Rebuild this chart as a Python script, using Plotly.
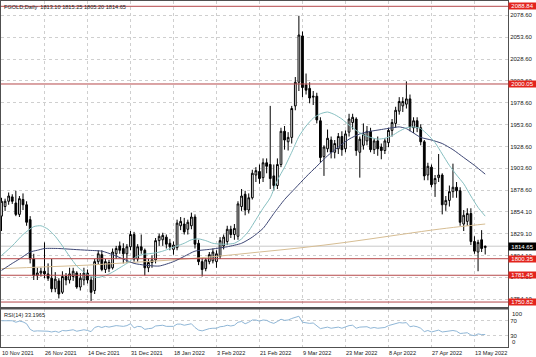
import plotly.graph_objects as go

# ---------------- data ----------------
tick_labels = ["10 Nov 2021", "26 Nov 2021", "14 Dec 2021", "31 Dec 2021", "18 Jan 2022",
               "3 Feb 2022", "21 Feb 2022", "9 Mar 2022", "23 Mar 2022", "8 Apr 2022",
               "27 Apr 2022", "13 May 2022"]

opens = [1849, 1860, 1866, 1871, 1864, 1851, 1868, 1862, 1845, 1800,
         1781, 1784, 1786, 1783, 1778, 1766, 1775, 1762, 1780, 1776,
         1780, 1784, 1768, 1776, 1784, 1776, 1764, 1797, 1805, 1788,
         1796, 1790, 1806, 1815, 1812, 1806, 1814, 1828, 1800, 1814,
         1810, 1790, 1796, 1799, 1821, 1822, 1825, 1818, 1811, 1813,
         1838, 1840, 1834, 1838, 1848, 1818, 1797, 1789, 1797, 1798,
         1797, 1803, 1815, 1820, 1834, 1828, 1826, 1860, 1874, 1856,
         1870, 1896, 1900, 1893, 1910, 1908, 1895, 1884, 1908, 1946,
         1934, 1939, 1975, 2002, 2055, 1999, 1995, 1985, 1986, 1958,
         1917, 1926, 1936, 1922, 1926, 1940, 1926, 1945, 1956, 1960,
         1922, 1930, 1935, 1946, 1925, 1935, 1928, 1924, 1933, 1947,
         1955, 1969, 1975, 1977, 1983, 1950, 1958, 1950, 1934, 1896,
         1905, 1886, 1893, 1896, 1862, 1867, 1877, 1882, 1878, 1840,
         1843, 1852, 1820, 1808, 1822, 1813.10]
highs = [1870, 1869, 1876, 1874, 1878, 1872, 1875, 1866, 1849, 1806,
         1790, 1790, 1819, 1795, 1800, 1785, 1778, 1786, 1784, 1790,
         1790, 1786, 1784, 1790, 1788, 1780, 1800, 1810, 1810, 1800,
         1799, 1812, 1815, 1820, 1818, 1817, 1832, 1831, 1817, 1828,
         1812, 1800, 1804, 1824, 1829, 1830, 1828, 1823, 1820, 1845,
         1848, 1847, 1845, 1853, 1851, 1822, 1801, 1801, 1808, 1812,
         1810, 1825, 1828, 1838, 1838, 1840, 1866, 1880, 1878, 1875,
         1902, 1905, 1908, 1915, 1915, 1975, 1908, 1915, 1950, 1952,
         1945, 1975, 2008, 2078, 2060, 2012, 2002, 1992, 1990, 1962,
         1930, 1948, 1940, 1936, 1944, 1946, 1947, 1966, 1966, 1962,
         1940, 1955, 1952, 1950, 1938, 1940, 1932, 1938, 1950, 1960,
         1974, 1985, 1985, 2003, 1988, 1962, 1962, 1954, 1936, 1910,
         1908, 1896, 1920, 1898, 1872, 1884, 1909, 1888, 1882, 1856,
         1858, 1858, 1826, 1822, 1833, 1815.25]
lows = [1832, 1855, 1862, 1863, 1849, 1848, 1856, 1838, 1795, 1776,
        1776, 1780, 1778, 1775, 1762, 1762, 1755, 1760, 1770, 1772,
        1775, 1766, 1764, 1770, 1772, 1752, 1760, 1794, 1786, 1784,
        1785, 1788, 1800, 1806, 1795, 1796, 1810, 1797, 1797, 1806,
        1781, 1785, 1790, 1795, 1815, 1815, 1812, 1810, 1805, 1810,
        1833, 1828, 1828, 1834, 1812, 1793, 1780, 1786, 1794, 1795,
        1790, 1800, 1811, 1816, 1824, 1822, 1822, 1855, 1850, 1852,
        1868, 1888, 1886, 1888, 1898, 1880, 1878, 1880, 1905, 1925,
        1924, 1932, 1970, 1992, 1985, 1988, 1978, 1976, 1955, 1910,
        1895, 1922, 1915, 1915, 1920, 1918, 1922, 1940, 1948, 1918,
        1893, 1925, 1930, 1922, 1920, 1918, 1914, 1920, 1928, 1940,
        1950, 1965, 1968, 1972, 1946, 1944, 1945, 1930, 1890, 1890,
        1882, 1871, 1888, 1851, 1855, 1860, 1870, 1870, 1838, 1832,
        1838, 1816, 1806, 1786, 1808, 1805.20]
closes = [1866, 1866, 1872, 1866, 1851, 1869, 1862, 1842, 1800, 1781,
          1784, 1786, 1783, 1778, 1766, 1777, 1760, 1780, 1776, 1783,
          1786, 1768, 1778, 1784, 1776, 1762, 1797, 1806, 1788, 1797,
          1789, 1808, 1812, 1810, 1806, 1814, 1828, 1800, 1814, 1810,
          1790, 1796, 1799, 1821, 1826, 1827, 1817, 1814, 1816, 1841,
          1843, 1831, 1842, 1848, 1817, 1797, 1788, 1799, 1805, 1808,
          1806, 1821, 1825, 1834, 1828, 1835, 1863, 1872, 1856, 1870,
          1898, 1901, 1892, 1910, 1906, 1892, 1884, 1908, 1946, 1936,
          1939, 1972, 2002, 2056, 1996, 1993, 1984, 1986, 1959, 1916,
          1928, 1938, 1922, 1932, 1940, 1925, 1943, 1960, 1962, 1924,
          1937, 1943, 1946, 1925, 1935, 1926, 1924, 1935, 1947, 1956,
          1970, 1980, 1980, 1983, 1951, 1958, 1950, 1934, 1895, 1906,
          1885, 1892, 1896, 1862, 1867, 1877, 1882, 1878, 1842, 1850,
          1852, 1820, 1809, 1819, 1812, 1814.65]

# moving averages (bar index, value)
fast_ma_idx = [0, 3, 6, 9, 11, 13, 15, 17, 19, 21, 23, 25, 27, 29, 31, 33, 35, 37, 39, 41,
               43, 45, 47, 49, 51, 53, 55, 57, 59, 61, 63, 65, 67, 69, 71, 73, 75, 77, 79, 81,
               83, 85, 87, 89, 91, 93, 95, 97, 99, 101, 103, 105, 107, 109, 111, 113, 115, 117,
               119, 121, 123, 125, 127, 129, 131, 133, 135]
fast_ma_val = [1804, 1815, 1828, 1837, 1838, 1834, 1826, 1815, 1803, 1792, 1785, 1780, 1779,
               1781, 1785, 1790, 1795, 1801, 1805, 1806, 1807, 1809, 1812, 1815, 1818, 1822,
               1823, 1821, 1818, 1817, 1817, 1818, 1823, 1832, 1845, 1858, 1870, 1890, 1905,
               1922, 1940, 1952, 1961, 1966, 1968, 1965, 1960, 1953, 1947, 1942, 1939, 1937,
               1938, 1941, 1946, 1950, 1951, 1949, 1942, 1933, 1920, 1907, 1896, 1886, 1872,
               1859, 1849]
mid_ma_idx = [0, 3, 5, 8, 10, 12, 16, 20, 24, 28, 31, 34, 37, 40, 44, 48, 51, 54, 58, 63, 67,
              70, 73, 76, 79, 82, 85, 88, 91, 94, 97, 100, 103, 106, 109, 111, 113, 115, 117,
              120, 123, 126, 129, 132, 135]
mid_ma_val = [1787, 1795, 1800, 1808, 1810, 1812, 1812, 1811, 1810, 1809, 1805, 1800, 1795,
              1793, 1792, 1797, 1803, 1809, 1811, 1814, 1818, 1825, 1835, 1852, 1868, 1881,
              1894, 1906, 1918, 1928, 1937, 1943, 1946, 1948, 1950, 1951, 1949, 1944, 1939,
              1936, 1932, 1925, 1916, 1907, 1897]
slow_ma_idx = [0, 12, 24, 36, 48, 60, 72, 84, 96, 108, 120, 128, 135]
slow_ma_val = [1789, 1791, 1793, 1796, 1799, 1803, 1808, 1813, 1819, 1826, 1833, 1837, 1840]

rsi = [70, 70, 72, 70, 66, 69, 67, 62, 47, 42, 43, 43, 43, 42, 40, 42, 39, 44, 43, 45,
       46, 42, 45, 46, 44, 41, 52, 55, 52, 55, 53, 56, 57, 56, 55, 57, 62, 51, 55, 54,
       47, 49, 50, 56, 58, 58, 55, 54, 55, 61, 61, 58, 60, 62, 52, 45, 43, 47, 49, 50,
       50, 54, 55, 58, 56, 58, 66, 68, 62, 66, 72, 72, 69, 72, 71, 66, 63, 68, 74, 71,
       72, 76, 79, 82, 66, 65, 63, 64, 57, 49, 51, 53, 50, 52, 53, 50, 54, 57, 58, 50,
       53, 54, 54, 50, 52, 50, 50, 52, 57, 60, 63, 65, 64, 65, 54, 56, 54, 50, 41, 44,
       40, 42, 45, 40, 41, 43, 44, 42, 36, 37, 38, 32, 30, 35, 33, 33.1965]

levels = [2088.84, 2000.05, 1800.35, 1781.45, 1750.82]
current_price = 1814.65
price_ticks = [2078.60, 2053.60, 2028.60, 2003.60, 1978.60, 1953.60, 1928.60, 1903.60,
               1878.60, 1854.10, 1829.10, 1804.10, 1779.10, 1754.10]
rsi_ticks = [30, 70]
header = "FGOLD,Daily\u00a0\u00a01813.10 1815.25 1805.20 1814.65"
rsi_header = "RSI(14) 33.1965"

# ---------------- figure ----------------
FONT = "Liberation Sans"
GRID = "#cfcfcf"
FRAME = "#505050"
bars = list(range(len(closes)))
tickpos = [12 * k for k in range(len(tick_labels))]

fig = go.Figure()
fig.add_trace(go.Candlestick(
    x=bars, open=opens, high=highs, low=lows, close=closes,
    increasing=dict(line=dict(color="#000000", width=1), fillcolor="#ffffff"),
    decreasing=dict(line=dict(color="#000000", width=1), fillcolor="#000000"),
    whiskerwidth=0, hoverinfo="skip", xaxis="x", yaxis="y", showlegend=False))

fig.add_trace(go.Scatter(x=slow_ma_idx, y=slow_ma_val, mode="lines",
                         line=dict(color="#d6bd93", width=1, shape="spline"),
                         xaxis="x", yaxis="y", showlegend=False, hoverinfo="skip"))
fig.add_trace(go.Scatter(x=mid_ma_idx, y=mid_ma_val, mode="lines",
                         line=dict(color="#3d4674", width=1, shape="spline", smoothing=0.6),
                         xaxis="x", yaxis="y", showlegend=False, hoverinfo="skip"))
fig.add_trace(go.Scatter(x=fast_ma_idx, y=fast_ma_val, mode="lines",
                         line=dict(color="#86bfc0", width=1, shape="spline", smoothing=0.6),
                         xaxis="x", yaxis="y", showlegend=False, hoverinfo="skip"))

fig.add_trace(go.Scatter(x=bars, y=rsi, mode="lines",
                         line=dict(color="#8fb6d6", width=1),
                         xaxis="x2", yaxis="y2", showlegend=False, hoverinfo="skip"))

shapes = []
# bid line
shapes.append(dict(type="line", xref="x domain", yref="y", x0=0, x1=1,
                   y0=current_price, y1=current_price,
                   line=dict(color="#c8c8c8", width=1), layer="below"))
for lv in levels:
    shapes.append(dict(type="line", xref="x domain", yref="y", x0=0, x1=1,
                       y0=lv, y1=lv, line=dict(color="#b5484a", width=1)))
# separator between panels
shapes.append(dict(type="rect", xref="paper", yref="paper", x0=0, x1=1,
                   y0=0.1084, y1=0.1142, fillcolor=FRAME, line=dict(width=0)))

annotations = []
for lv in levels:
    annotations.append(dict(x=1, xref="paper", xanchor="left", y=lv, yref="y",
                            yanchor="middle", text=f"{lv:.2f}", showarrow=False,
                            font=dict(family=FONT, size=6, color="#ffffff"),
                            bgcolor="#e3241d", width=27, height=6, borderpad=0))
annotations.append(dict(x=1, xref="paper", xanchor="left", y=current_price, yref="y",
                        yanchor="middle", text=f"{current_price:.2f}", showarrow=False,
                        font=dict(family=FONT, size=6, color="#ffffff"),
                        bgcolor="#000000", width=27, height=7, borderpad=0))
annotations.append(dict(x=0, xref="paper", xanchor="left", xshift=1, y=1, yref="paper",
                        yanchor="top", yshift=-1, text=header, showarrow=False,
                        font=dict(family=FONT, size=5.6, color="#202020")))
annotations.append(dict(x=0, xref="paper", xanchor="left", xshift=1, y=0.1084, yref="paper",
                        yanchor="top", yshift=-1, text=rsi_header, showarrow=False,
                        font=dict(family=FONT, size=5.6, color="#202020")))
annotations.append(dict(x=1, xref="paper", xanchor="left", xshift=2, y=100, yref="y2",
                        yanchor="top", text="100", showarrow=False,
                        font=dict(family=FONT, size=6, color="#202020")))
annotations.append(dict(x=1, xref="paper", xanchor="left", xshift=2, y=0, yref="y2",
                        yanchor="bottom", text="0", showarrow=False,
                        font=dict(family=FONT, size=6, color="#202020")))

xr = [-0.14, 141.36]
common_x = dict(range=xr, tickvals=tickpos, showgrid=True, gridcolor=GRID, griddash="dot",
                gridwidth=1, showline=True, mirror=True, linecolor=FRAME, linewidth=1,
                zeroline=False, ticks="")

fig.update_layout(
    width=536, height=357,
    margin=dict(l=1, r=28, t=1, b=10),
    paper_bgcolor="#ffffff", plot_bgcolor="#ffffff",
    font=dict(family=FONT, size=6, color="#202020"),
    showlegend=False,
    xaxis=dict(domain=[0, 1], anchor="y", showticklabels=False,
               rangeslider=dict(visible=False), **common_x),
    xaxis2=dict(domain=[0, 1], anchor="y2", matches="x", ticktext=tick_labels,
                ticklabelposition="outside right",
                tickfont=dict(family=FONT, size=5.6, color="#202020"), **common_x),
    yaxis=dict(domain=[0.1142, 1], anchor="x", side="right", range=[1744.6, 2094.9],
               tickvals=price_ticks, ticktext=[f"{v:.2f}" for v in price_ticks],
               showgrid=True, gridcolor=GRID, griddash="dot", showline=True, mirror=True,
               linecolor=FRAME, linewidth=1, zeroline=False, ticks="",
               tickfont=dict(family=FONT, size=6, color="#202020")),
    yaxis2=dict(domain=[0, 0.1084], anchor="x2", side="right", range=[0, 100],
                tickvals=rsi_ticks, ticktext=[str(v) for v in rsi_ticks],
                showgrid=True, gridcolor=GRID, griddash="dot", showline=True, mirror=True,
                linecolor=FRAME, linewidth=1, zeroline=False, ticks="",
                tickfont=dict(family=FONT, size=6, color="#202020")),
    shapes=shapes,
    annotations=annotations,
)

fig.write_html("out.html", config={"displayModeBar": False},
               post_script="document.body.style.margin='0';document.body.style.overflow='hidden';")
